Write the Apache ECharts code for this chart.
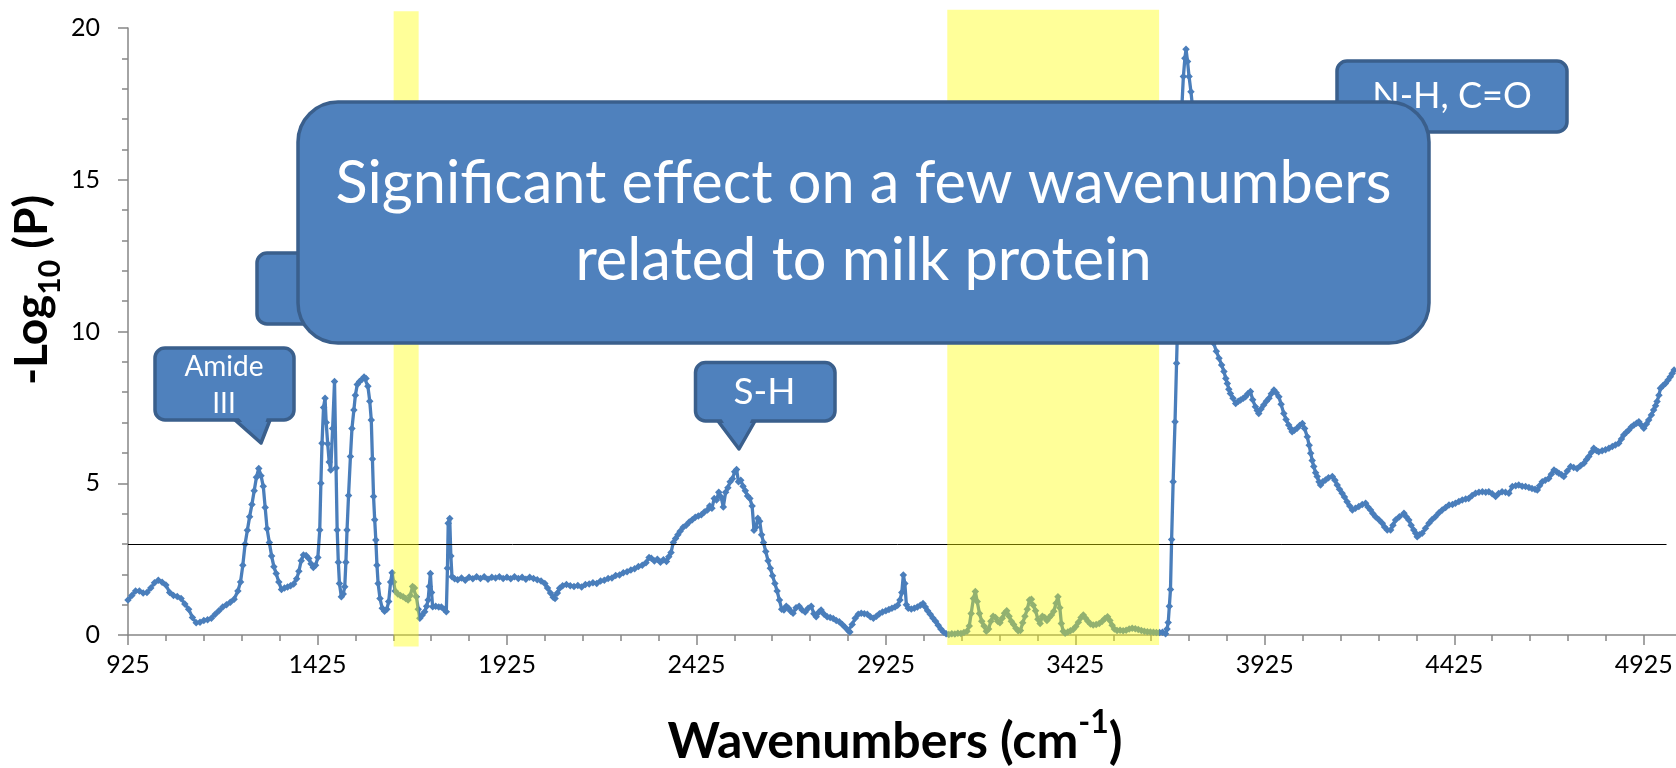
<!DOCTYPE html>
<html>
<head>
<meta charset="utf-8">
<script src="https://cdn.jsdelivr.net/npm/echarts@6/dist/echarts.min.js"></script>
<style>
  html, body { margin: 0; padding: 0; background: #fff; }
  #chart { width: 1676px; height: 768px; }
</style>
</head>
<body>
<div id="chart"></div>
<script>
// -log10(P) per wavenumber, [cm-1, value]
var logP_925_1915 = [
  [925,1.15],[935,1.30],[945,1.45],[955,1.45],[965,1.38],[975,1.40],[985,1.55],[995,1.72],[1005,1.80],[1015,1.74],
  [1025,1.65],[1035,1.40],[1045,1.30],[1055,1.27],[1065,1.20],[1075,1.02],[1085,0.85],[1095,0.58],[1105,0.40],[1115,0.42],
  [1125,0.48],[1135,0.50],[1145,0.55],[1155,0.68],[1165,0.80],[1175,0.92],[1185,1.00],[1195,1.08],[1205,1.18],[1215,1.45],
  [1222,1.75],[1228,2.30],[1234,3.00],[1240,3.45],[1246,3.90],[1252,4.30],[1258,4.75],[1264,5.20],[1270,5.49],[1276,5.25],
  [1282,4.90],[1287,4.20],[1292,3.50],[1298,3.05],[1304,2.60],[1310,2.25],[1316,2.03],[1323,1.75],[1330,1.50],[1338,1.55],
  [1346,1.58],[1354,1.62],[1362,1.68],[1370,1.85],[1376,2.10],[1382,2.45],[1388,2.64],[1395,2.62],[1402,2.52],[1408,2.35],
  [1414,2.22],[1420,2.30],[1426,2.55],[1431,3.46],[1434,5.00],[1437,6.32],[1441,7.50],[1445,7.80],[1448,7.00],[1452,6.30],
  [1456,5.70],[1460,5.44],[1465,6.80],[1470,8.35],[1474,5.50],[1477,3.46],[1480,2.40],[1483,1.70],[1488,1.26],[1493,1.35],
  [1497,1.59],[1500,2.40],[1503,3.46],[1507,4.60],[1512,5.88],[1516,6.80],[1521,7.41],[1525,7.90],[1530,8.25],[1536,8.35],
  [1542,8.42],[1548,8.50],[1553,8.45],[1558,8.20],[1563,7.70],[1567,7.08],[1570,5.80],[1573,4.56],[1576,3.80],[1579,3.13],
  [1582,2.30],[1585,1.70],[1590,1.20],[1596,0.88],[1602,0.78],[1608,0.85],[1613,1.10],[1618,1.75],[1622,2.05],[1626,1.75],
  [1630,1.45],[1637,1.35],[1644,1.30],[1651,1.26],[1658,1.20],[1664,1.15],[1670,1.30],[1676,1.60],[1681,1.55],[1686,1.26],
  [1691,0.85],[1695,0.55],[1701,0.65],[1708,0.77],[1713,0.95],[1717,1.15],[1720,1.60],[1723,2.03],[1726,1.40],[1729,0.93],
  [1737,0.95],[1745,0.92],[1752,0.92],[1759,0.85],[1765,0.77],[1768,2.20],[1770,3.68],[1774,3.84],[1777,2.60],[1780,1.92],
  [1787,1.85],[1795,1.82],[1805,1.88],[1815,1.80],[1825,1.90],[1835,1.85],[1845,1.92],[1855,1.86],[1865,1.92],[1875,1.84],
  [1885,1.90],[1895,1.88],[1905,1.92],[1915,1.86]
];
var logP_1925_2916 = [
  [1925,1.90],[1935,1.85],[1945,1.92],[1955,1.86],[1965,1.90],[1975,1.84],[1985,1.90],[1995,1.86],[2005,1.82],[2015,1.78],
  [2025,1.70],[2032,1.55],[2040,1.38],[2047,1.24],[2052,1.20],[2058,1.38],[2064,1.54],[2072,1.62],[2082,1.66],[2092,1.62],
  [2102,1.60],[2112,1.63],[2122,1.58],[2132,1.66],[2142,1.68],[2152,1.72],[2162,1.70],[2172,1.78],[2182,1.80],[2192,1.86],
  [2202,1.88],[2212,1.96],[2222,1.98],[2232,2.05],[2242,2.08],[2252,2.14],[2262,2.18],[2272,2.26],[2282,2.30],[2292,2.38],
  [2300,2.55],[2306,2.53],[2314,2.44],[2322,2.50],[2330,2.40],[2338,2.48],[2346,2.42],[2352,2.58],[2358,2.72],[2364,3.05],
  [2370,3.18],[2376,3.30],[2382,3.42],[2390,3.55],[2398,3.62],[2406,3.72],[2414,3.80],[2422,3.88],[2430,3.92],[2438,3.96],
  [2446,4.05],[2454,4.12],[2460,4.25],[2466,4.18],[2472,4.50],[2478,4.45],[2484,4.70],[2490,4.55],[2496,4.22],[2502,4.70],
  [2508,4.85],[2514,5.05],[2520,5.15],[2526,5.38],[2531,5.45],[2536,5.05],[2542,5.10],[2548,4.90],[2554,4.75],[2560,4.58],
  [2566,4.50],[2572,4.25],[2577,3.45],[2582,3.55],[2587,3.85],[2592,3.75],[2597,3.30],[2602,3.05],[2608,2.75],[2614,2.45],
  [2620,2.20],[2626,1.95],[2632,1.70],[2638,1.45],[2644,1.15],[2650,0.85],[2656,0.82],[2662,0.95],[2668,0.88],[2674,0.78],
  [2680,0.72],[2688,0.90],[2696,0.95],[2704,0.82],[2712,0.76],[2720,0.88],[2728,0.95],[2735,0.70],[2741,0.60],[2748,0.75],
  [2754,0.82],[2762,0.68],[2770,0.60],[2778,0.58],[2786,0.54],[2794,0.48],[2802,0.44],[2810,0.35],[2818,0.25],[2826,0.14],
  [2830,0.10],[2836,0.35],[2844,0.55],[2852,0.68],[2860,0.72],[2868,0.70],[2876,0.68],[2884,0.60],[2892,0.55],[2900,0.62],
  [2908,0.70],[2916,0.76]
];
var logP_2925_3915 = [
  [2925,0.80],[2933,0.84],[2941,0.88],[2949,0.92],[2956,0.98],[2962,1.15],[2967,1.40],[2971,1.98],[2975,1.70],[2979,1.00],
  [2984,0.88],[2992,0.86],[3000,0.88],[3008,0.92],[3016,0.98],[3023,1.04],[3029,0.92],[3035,0.80],[3042,0.68],[3049,0.56],
  [3056,0.45],[3063,0.32],[3070,0.20],[3077,0.10],[3084,0.04],[3091,0.02],[3099,0.04],[3107,0.03],[3115,0.06],[3123,0.05],
  [3131,0.08],[3139,0.12],[3145,0.30],[3150,0.71],[3156,1.20],[3161,1.43],[3166,1.10],[3172,0.71],[3178,0.45],[3184,0.30],
  [3190,0.12],[3196,0.20],[3202,0.45],[3208,0.62],[3214,0.58],[3220,0.45],[3226,0.40],[3232,0.55],[3238,0.72],[3244,0.80],
  [3250,0.62],[3256,0.45],[3262,0.35],[3268,0.22],[3274,0.14],[3280,0.15],[3286,0.40],[3292,0.62],[3298,0.85],[3304,1.15],
  [3309,1.18],[3314,0.98],[3320,0.80],[3326,0.52],[3332,0.38],[3338,0.62],[3344,0.58],[3350,0.48],[3356,0.58],[3362,0.66],
  [3368,0.78],[3374,1.05],[3379,1.26],[3384,0.90],[3388,0.38],[3393,0.12],[3398,0.06],[3405,0.10],[3412,0.14],[3419,0.18],
  [3426,0.28],[3433,0.42],[3440,0.58],[3446,0.66],[3452,0.55],[3458,0.45],[3465,0.36],[3472,0.33],[3480,0.35],[3488,0.38],
  [3496,0.45],[3503,0.54],[3510,0.60],[3516,0.48],[3522,0.32],[3528,0.20],[3535,0.15],[3543,0.16],[3551,0.14],[3559,0.16],
  [3567,0.20],[3575,0.22],[3583,0.21],[3591,0.18],[3599,0.15],[3607,0.12],[3615,0.11],[3623,0.10],[3631,0.09],[3639,0.08],
  [3647,0.08],[3655,0.09],[3663,0.04],[3667,0.20],[3670,0.41],[3673,0.95],[3676,1.50],[3679,3.15],[3683,5.05],[3688,7.03],
  [3692,8.95],[3696,10.8],[3700,13.5],[3703,15.8],[3706,17.4],[3710,18.4],[3714,19.0],[3717,19.3],[3721,18.9],[3725,18.4],
  [3730,17.9],[3735,17.3],[3742,15.4],[3750,13.6],[3758,12.3],[3766,11.3],[3774,10.6],[3782,10.1],[3790,9.61],[3797,9.35],
  [3804,9.12],[3811,8.90],[3817,8.68],[3822,8.45],[3826,8.29],[3830,8.10],[3834,7.96],[3841,7.80],[3848,7.63],[3855,7.70],
  [3861,7.74],[3868,7.80],[3874,7.85],[3880,7.95],[3887,8.02],[3893,7.75],[3900,7.52],[3905,7.40],[3909,7.30],[3915,7.45]
];
var logP_3922_5005 = [
  [3922,7.58],[3929,7.70],[3936,7.80],[3942,7.95],[3949,8.07],[3955,7.98],[3962,7.85],[3968,7.60],[3975,7.30],[3981,7.10],
  [3988,6.92],[3993,6.80],[3997,6.70],[4003,6.75],[4010,6.81],[4017,6.90],[4024,6.97],[4030,6.80],[4037,6.53],[4042,6.25],
  [4046,5.99],[4050,5.75],[4054,5.55],[4059,5.35],[4063,5.22],[4068,5.05],[4072,4.94],[4078,5.05],[4085,5.11],[4093,5.18],
  [4103,5.22],[4110,5.10],[4116,4.94],[4122,4.80],[4129,4.67],[4135,4.55],[4142,4.39],[4149,4.25],[4156,4.12],[4164,4.18],
  [4173,4.23],[4182,4.30],[4191,4.34],[4197,4.22],[4204,4.12],[4210,4.00],[4217,3.90],[4226,3.80],[4235,3.68],[4241,3.56],
  [4248,3.46],[4257,3.46],[4263,3.62],[4270,3.79],[4280,3.90],[4292,4.01],[4298,3.90],[4305,3.79],[4311,3.62],[4318,3.46],
  [4323,3.35],[4327,3.24],[4333,3.30],[4340,3.35],[4349,3.52],[4358,3.68],[4366,3.80],[4375,3.90],[4384,4.02],[4393,4.12],
  [4402,4.20],[4411,4.28],[4420,4.30],[4428,4.34],[4437,4.40],[4446,4.45],[4455,4.48],[4463,4.50],[4472,4.60],[4481,4.67],
  [4490,4.70],[4499,4.72],[4508,4.70],[4516,4.72],[4525,4.65],[4534,4.56],[4542,4.66],[4551,4.72],[4560,4.70],[4569,4.67],
  [4578,4.89],[4587,4.92],[4595,4.94],[4604,4.90],[4613,4.89],[4622,4.86],[4630,4.83],[4638,4.80],[4644,4.78],[4650,4.92],
  [4657,5.05],[4665,5.10],[4674,5.16],[4681,5.30],[4688,5.44],[4695,5.38],[4701,5.33],[4708,5.28],[4714,5.22],[4723,5.40],
  [4732,5.55],[4740,5.52],[4749,5.49],[4758,5.58],[4767,5.66],[4774,5.78],[4780,5.88],[4787,6.02],[4793,6.15],[4800,6.08],
  [4806,6.04],[4815,6.07],[4824,6.10],[4833,6.15],[4842,6.21],[4850,6.26],[4859,6.32],[4866,6.46],[4872,6.59],[4879,6.68],
  [4885,6.75],[4892,6.85],[4899,6.92],[4906,6.98],[4912,7.03],[4918,6.92],[4925,6.81],[4932,6.95],[4938,7.08],[4945,7.25],
  [4951,7.41],[4956,7.55],[4960,7.69],[4965,7.90],[4969,8.13],[4976,8.22],[4982,8.29],[4989,8.40],[4995,8.51],[5000,8.62],
  [5005,8.73]
];

// water absorption regions shaded yellow: [from, to, low, high]
var waterBands = [[1626, 1692, -0.38, 20.55], [3087, 3646, -0.33, 20.6]];
var threshold = 3;
var thresholdEnd = 4985;

var xLabelValues = [925, 1425, 1925, 2425, 2925, 3425, 3925, 4425, 4925];
var xMinorValues = [];
for (var w = 1025; w < 5010; w += 100) {
  if ((w - 925) % 500 !== 0) xMinorValues.push(w);
}

var spectrum = logP_925_1915.concat(logP_1925_2916, logP_2925_3915, logP_3922_5005);

var chart = echarts.init(document.getElementById('chart'));

var axisGrey = '#868686';
var boxFill = '#4F81BD';
var boxEdge = '#3A5F8C';

// rounded box, with an optional pointer under it
function callout(x, y, w, h, r, pointer, z) {
  var els = [];
  var bottom = y + h;
  if (pointer) {
    els.push({
      type: 'polygon', z: z,
      shape: { points: [[pointer[0], bottom], [pointer[1], bottom], [pointer[2], pointer[3]]] },
      style: { fill: boxFill, stroke: boxEdge, lineWidth: 3.5, lineJoin: 'round' }
    });
  }
  els.push({
    type: 'rect', z: z + 1,
    shape: { x: x, y: y, width: w, height: h, r: r },
    style: { fill: boxFill, stroke: boxEdge, lineWidth: 3.5 }
  });
  if (pointer) {
    var lx = pointer[0] + (pointer[2] - pointer[0]) * 0.4 + 3;
    var rx = pointer[1] + (pointer[2] - pointer[1]) * 0.4 - 3;
    var my = bottom + (pointer[3] - bottom) * 0.4;
    els.push({
      type: 'polygon', z: z + 2,
      shape: { points: [[pointer[0] + 3, bottom - 3], [pointer[1] - 3, bottom - 3], [rx, my], [lx, my]] },
      style: { fill: boxFill }
    });
  }
  return els;
}

function label(text, x, y, size, z, lineHeight) {
  return {
    type: 'text', z: z, x: x, y: y,
    style: {
      text: text, fill: '#fff', fontFamily: 'Lato', fontSize: size,
      lineHeight: lineHeight || size, align: 'center', verticalAlign: 'middle'
    }
  };
}

var graphics = []
  .concat(callout(155, 348, 139, 72, 10, [235, 270, 261, 443], 100))
  .concat([label('Amide\nIII', 224, 385, 28, 104, 37)])
  .concat(callout(695.5, 362.5, 139.5, 58.5, 10, [718, 755, 739, 449], 100))
  .concat([label('S-H', 764.5, 392, 37, 104)])
  .concat(callout(257, 253, 220, 71, 10, null, 100))
  .concat(callout(1337, 61, 230, 71, 10, null, 100))
  .concat([label('N-H, C=O', 1452, 96, 36, 104)])
  .concat(callout(298, 102, 1131, 241, 40, null, 120))
  .concat([label('Significant effect on a few wavenumbers\nrelated to milk protein', 863.5, 222, 59.5, 125, 77)])
  .concat([
    {
      type: 'text', z: 50, x: 32.6, y: 290, rotation: Math.PI / 2,
      style: {
        text: '{m|-Log}{s|10}{m| (P)}', align: 'center', verticalAlign: 'middle',
        rich: {
          m: { fontFamily: 'Lato', fontWeight: 'bold', fontSize: 46, lineHeight: 66, fill: '#000' },
          s: { fontFamily: 'Lato', fontWeight: 'bold', fontSize: 30, lineHeight: 30, verticalAlign: 'bottom', fill: '#000' }
        }
      }
    },
    {
      type: 'text', z: 50, x: 895, y: 742,
      style: {
        text: '{m|Wavenumbers (cm}{p|-1}{m|)}', align: 'center', verticalAlign: 'middle',
        rich: {
          m: { fontFamily: 'Lato', fontWeight: 'bold', fontSize: 50, lineHeight: 70, fill: '#000' },
          p: { fontFamily: 'Lato', fontWeight: 'bold', fontSize: 32, lineHeight: 52, verticalAlign: 'top', fill: '#000' }
        }
      }
    }
  ]);

var plainNumber = function (v) { return String(v); };

var option = {
  animation: false,
  grid: { left: 128, right: 0, top: 28, bottom: 133, outerBoundsMode: 'none' },
  xAxis: [
    {
      type: 'value', min: 925, max: 5010, position: 'bottom',
      axisLine: { show: true, lineStyle: { color: axisGrey, width: 1.5 } },
      axisTick: { show: true, customValues: xLabelValues, length: 10, lineStyle: { color: axisGrey, width: 1.5 } },
      axisLabel: { customValues: xLabelValues, formatter: plainNumber, margin: 17, color: '#000', fontSize: 25, fontFamily: 'Lato' },
      splitLine: { show: false }
    },
    {
      type: 'value', min: 925, max: 5010, position: 'bottom',
      axisLine: { show: false },
      axisTick: { show: true, customValues: xMinorValues, length: 6, lineStyle: { color: axisGrey, width: 1.5 } },
      axisLabel: { show: false },
      splitLine: { show: false }
    }
  ],
  yAxis: {
    type: 'value', min: 0, max: 20, interval: 5,
    axisLine: { show: true, lineStyle: { color: axisGrey, width: 1.5 } },
    axisTick: { show: true, length: 10, lineStyle: { color: axisGrey, width: 1.5 } },
    minorTick: { show: true, splitNumber: 5, length: 6, lineStyle: { color: axisGrey, width: 1.5 } },
    axisLabel: { formatter: plainNumber, margin: 28, color: '#000', fontSize: 25, fontFamily: 'Lato' },
    splitLine: { show: false },
    minorSplitLine: { show: false }
  },
  series: [
    {
      type: 'line',
      data: spectrum,
      xAxisIndex: 0,
      z: 2,
      symbol: 'diamond',
      symbolSize: 7.5,
      showSymbol: true,
      lineStyle: { color: '#4A7EBB', width: 3.3 },
      itemStyle: { color: '#4A7EBB' },
      markLine: {
        silent: true,
        symbol: 'none',
        label: { show: false },
        lineStyle: { color: '#000', width: 1, type: 'solid' },
        data: [[{ coord: [925, threshold] }, { coord: [thresholdEnd, threshold] }]]
      }
    },
    {
      type: 'custom',
      data: waterBands,
      z: 10,
      silent: true,
      encode: { x: [0, 1], y: [2, 3] },
      renderItem: function (params, api) {
        var a = api.coord([api.value(0), api.value(3)]);
        var b = api.coord([api.value(1), api.value(2)]);
        return {
          type: 'rect',
          shape: { x: a[0], y: a[1], width: b[0] - a[0], height: b[1] - a[1] },
          style: { fill: 'rgba(255,255,0,0.4)' }
        };
      }
    }
  ],
  graphic: graphics
};

chart.setOption(option);
</script>
</body>
</html>
